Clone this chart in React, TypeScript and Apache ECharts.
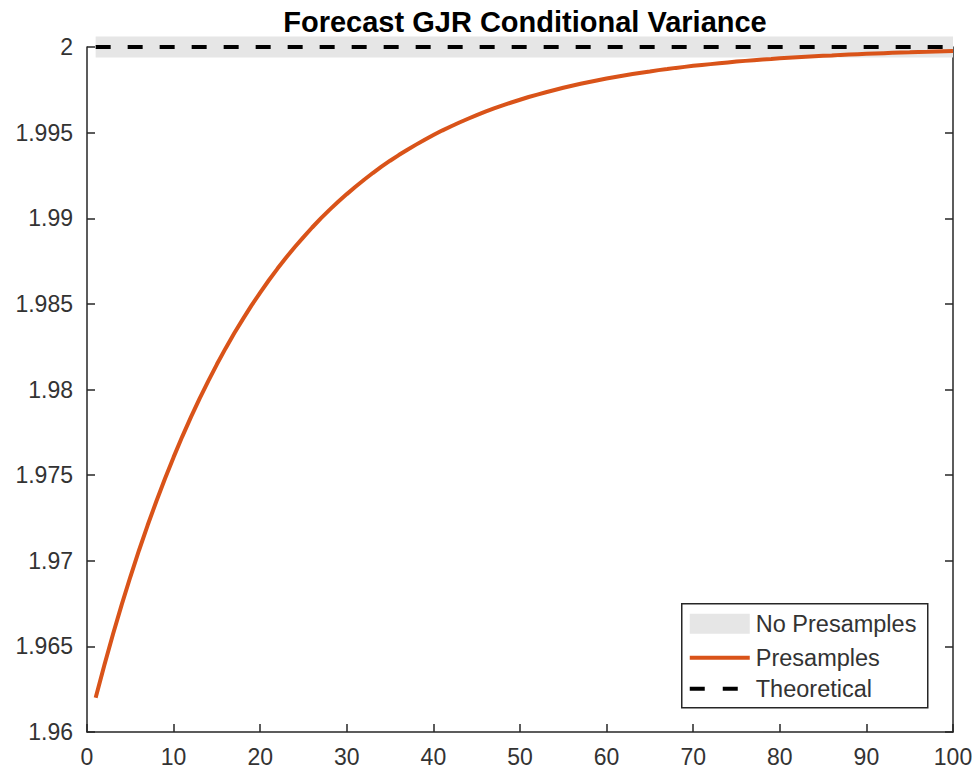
import React, { useEffect, useRef } from "react";
import * as echarts from "echarts";

// Forecast horizon range (periods 1..100)
const horizonStart = 1;
const horizonEnd = 100;

// Presample-based forecast of conditional variance, periods 1..100
const presampleVariance = [
  1.962, 1.9639, 1.96571, 1.96742, 1.96905, 1.9706, 1.97207, 1.97346, 1.97479, 1.97605,
  1.97725, 1.97839, 1.97947, 1.98049, 1.98147, 1.9824, 1.98328, 1.98411, 1.98491, 1.98566,
  1.98638, 1.98706, 1.98771, 1.98832, 1.9889, 1.98946, 1.98999, 1.99049, 1.99096, 1.99141,
  1.99184, 1.99225, 1.99264, 1.99301, 1.99336, 1.99369, 1.994, 1.9943, 1.99459, 1.99486,
  1.99512, 1.99536, 1.99559, 1.99581, 1.99602, 1.99622, 1.99641, 1.99659, 1.99676, 1.99692,
  1.99708, 1.99722, 1.99736, 1.99749, 1.99762, 1.99774, 1.99785, 1.99796, 1.99806, 1.99816,
  1.99825, 1.99834, 1.99842, 1.9985, 1.99857, 1.99865, 1.99871, 1.99878, 1.99884, 1.9989,
  1.99895, 1.999, 1.99905, 1.9991, 1.99915, 1.99919, 1.99923, 1.99927, 1.9993, 1.99934,
  1.99937, 1.9994, 1.99943, 1.99946, 1.99949, 1.99951, 1.99954, 1.99956, 1.99958, 1.9996,
  1.99962, 1.99964, 1.99966, 1.99968, 1.99969, 1.99971, 1.99972, 1.99974, 1.99975, 1.99976,
];

// Forecast without presamples is flat at the unconditional variance
const noPresampleVariance = [2, 2];
// Theoretical (unconditional) variance
const theoreticalVariance = [2, 2];

const legendLabels = ["No Presamples", "Presamples", "Theoretical"];
const titleText = "Forecast GJR Conditional Variance";

const AXIS_COLOR = "#262626";
const LABEL_COLOR = "#333333";
const FONT = "'Liberation Sans', Arial, Helvetica, sans-serif";

export default function App() {
  const ref = useRef<HTMLDivElement>(null);

  useEffect(() => {
    document.body.style.margin = "0";
    if (!ref.current) return;
    const chart = echarts.init(ref.current, undefined, { renderer: "svg" });

    const presData = presampleVariance.map((v, i) => [horizonStart + i, v]);
    const noPresData = [
      [horizonStart, noPresampleVariance[0]],
      [horizonEnd, noPresampleVariance[1]],
    ];
    const theoData = [
      [horizonStart, theoreticalVariance[0]],
      [horizonEnd, theoreticalVariance[1]],
    ];

    const gridLeft = 87;
    const gridRight = 26;
    const gridTop = 47;
    const gridBottom = 44;

    const lx = 681;
    const ly = 603;

    chart.setOption({
      animation: false,
      backgroundColor: "#ffffff",
      title: {
        text: titleText,
        left: 525,
        textAlign: "center",
        top: 7,
        padding: 0,
        textStyle: {
          fontFamily: FONT,
          fontSize: 29,
          fontWeight: "bold",
          color: "#000000",
        },
      },
      grid: {
        left: gridLeft,
        right: gridRight,
        top: gridTop,
        bottom: gridBottom,
        containLabel: false,
      },
      xAxis: {
        type: "value",
        min: 0,
        max: 100,
        interval: 10,
        axisLine: { show: true, lineStyle: { color: AXIS_COLOR, width: 1.5 } },
        axisTick: { show: true, inside: true, length: 8, lineStyle: { color: AXIS_COLOR, width: 1.5 } },
        axisLabel: { color: LABEL_COLOR, fontFamily: FONT, fontSize: 23, margin: 13 },
        splitLine: { show: false },
      },
      yAxis: [
        {
          type: "value",
          min: 1.96,
          max: 2,
          interval: 0.005,
          axisLine: { show: true, lineStyle: { color: AXIS_COLOR, width: 1.5 } },
          axisTick: { show: true, inside: true, length: 8, lineStyle: { color: AXIS_COLOR, width: 1.5 } },
          axisLabel: { color: LABEL_COLOR, fontFamily: FONT, fontSize: 23, margin: 14 },
          splitLine: { show: false },
        },
        {
          type: "value",
          position: "right",
          min: 1.96,
          max: 2,
          interval: 0.005,
          axisLine: { show: true, lineStyle: { color: AXIS_COLOR, width: 1.5 } },
          axisTick: { show: true, inside: true, length: 8, lineStyle: { color: AXIS_COLOR, width: 1.5 } },
          axisLabel: { show: false },
          splitLine: { show: false },
        },
      ],
      series: [
        {
          name: legendLabels[0],
          type: "line",
          data: noPresData,
          symbol: "none",
          clip: false,
          silent: true,
          lineStyle: { color: "#e6e6e6", width: 21, cap: "butt" },
          z: 2,
        },
        {
          name: legendLabels[1],
          type: "line",
          data: presData,
          symbol: "none",
          clip: false,
          silent: true,
          lineStyle: { color: "#D95319", width: 4 },
          z: 3,
        },
        {
          name: legendLabels[2],
          type: "line",
          data: theoData,
          symbol: "none",
          clip: false,
          silent: true,
          lineStyle: { color: "#000000", width: 4, type: [15, 17], cap: "butt" },
          z: 4,
        },
      ],
      graphic: [
        {
          type: "group",
          left: lx,
          top: ly,
          children: [
            {
              type: "rect",
              shape: { x: 0, y: 0, width: 246, height: 104 },
              style: { fill: "#ffffff", stroke: AXIS_COLOR, lineWidth: 1.5 },
            },
            {
              type: "rect",
              shape: { x: 8, y: 10, width: 60, height: 20 },
              style: { fill: "#e6e6e6" },
            },
            {
              type: "line",
              shape: { x1: 8, y1: 54, x2: 68, y2: 54 },
              style: { stroke: "#D95319", lineWidth: 4 },
            },
            {
              type: "line",
              shape: { x1: 8, y1: 85, x2: 68, y2: 85 },
              style: { stroke: "#000000", lineWidth: 4, lineDash: [15, 18] },
            },
            {
              type: "text",
              x: 74,
              y: 20,
              style: {
                text: legendLabels[0],
                fontFamily: FONT,
                fontSize: 23.5,
                fill: LABEL_COLOR,
                verticalAlign: "middle",
                align: "left",
              },
            },
            {
              type: "text",
              x: 74,
              y: 54,
              style: {
                text: legendLabels[1],
                fontFamily: FONT,
                fontSize: 23.5,
                fill: LABEL_COLOR,
                verticalAlign: "middle",
                align: "left",
              },
            },
            {
              type: "text",
              x: 74,
              y: 85,
              style: {
                text: legendLabels[2],
                fontFamily: FONT,
                fontSize: 23.5,
                fill: LABEL_COLOR,
                verticalAlign: "middle",
                align: "left",
              },
            },
          ],
        },
      ],
    });

    return () => {
      chart.dispose();
    };
  }, []);

  return <div ref={ref} style={{ width: 979, height: 776 }} />;
}
